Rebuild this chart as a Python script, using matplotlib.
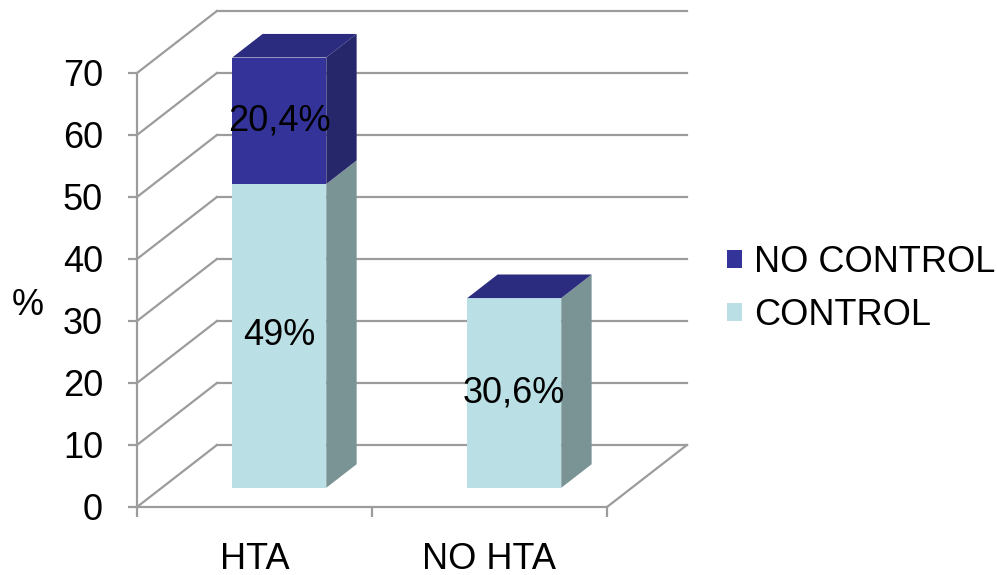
import matplotlib
matplotlib.use("Agg")
import matplotlib.pyplot as plt
from matplotlib.patches import Polygon, Patch

plt.rcParams['font.family'] = ['Liberation Sans', 'DejaVu Sans']

# Data
categories = ["HTA", "NO HTA"]
series_names = ["CONTROL", "NO CONTROL"]
control = [49.0, 30.6]
no_control = [20.4, 0.0]
labels_control = ["49%", "30,6%"]
labels_no_control = ["20,4%", ""]
y_ticks = [0, 10, 20, 30, 40, 50, 60, 70]

# Styling
FS = 26
GRID = "#9c9c9c"
colors = {
    "CONTROL": {"front": "#badfe4", "side": "#7a9395", "top": "#9fc4c8"},
    "NO CONTROL": {"front": "#333399", "side": "#26266a", "top": "#2b2b80"},
}
DX, DY = 0.34, 10.0          # oblique offset of the full floor depth
BAR_W = 0.4                  # bar width in category units
D0, D1 = 0.31, 0.69          # bar depth range (fraction of floor depth)


def proj(x, y, d):
    return (x + d * DX, y + d * DY)


fig = plt.figure(figsize=(9.97, 5.75), dpi=100)
fig.patch.set_facecolor("white")
ax = fig.add_axes([137 / 997, 68 / 575, 470 / 997, 434 / 575])
ax.set_xlim(0, len(categories))
ax.set_ylim(0, 70)
ax.patch.set_alpha(0)

# Walls and gridlines
for v in y_ticks:
    ax.plot([0, DX], [v, v + DY], color=GRID, lw=1.6, clip_on=False, zorder=1)
    ax.plot([DX, len(categories) + DX], [v + DY, v + DY], color=GRID, lw=1.6,
            clip_on=False, zorder=1)
ax.plot([len(categories), len(categories) + DX], [0, DY], color=GRID, lw=1.6,
        clip_on=False, zorder=1)

# Stacked 3D bars
for i, cat in enumerate(categories):
    xl = i + 0.5 - BAR_W / 2
    xr = i + 0.5 + BAR_W / 2
    segs = [("CONTROL", control[i], labels_control[i]),
            ("NO CONTROL", no_control[i], labels_no_control[i])]
    base = 0.0
    for name, val, lab in segs:
        y0, y1 = base, base + val
        c = colors[name]
        if val > 0:
            front = [proj(xl, y0, D0), proj(xr, y0, D0), proj(xr, y1, D0), proj(xl, y1, D0)]
            side = [proj(xr, y0, D0), proj(xr, y0, D1), proj(xr, y1, D1), proj(xr, y1, D0)]
            ax.add_patch(Polygon(front, closed=True, facecolor=c["front"], edgecolor="none",
                                 clip_on=False, zorder=3))
            ax.add_patch(Polygon(side, closed=True, facecolor=c["side"], edgecolor="none",
                                 clip_on=False, zorder=3))
        if lab:
            cx, cy = proj(i + 0.5, (y0 + y1) / 2, D0)
            ax.text(cx, cy, lab, ha="center", va="center", fontsize=FS, color="black",
                    zorder=5)
        base = y1
    top = [proj(xl, base, D0), proj(xr, base, D0), proj(xr, base, D1), proj(xl, base, D1)]
    ax.add_patch(Polygon(top, closed=True, facecolor=colors["NO CONTROL"]["top"],
                         edgecolor="none", clip_on=False, zorder=4))

# Axes
for s in ["top", "right"]:
    ax.spines[s].set_visible(False)
for s in ["left", "bottom"]:
    ax.spines[s].set_color(GRID)
    ax.spines[s].set_linewidth(1.6)
    ax.spines[s].set_zorder(2)

ax.set_yticks(y_ticks)
ax.set_yticklabels([str(t) for t in y_ticks])
ax.tick_params(axis="y", direction="out", length=6.5, width=1.6, color=GRID,
               labelsize=FS, pad=18)

ax.set_xticks(range(len(categories) + 1))
ax.set_xticklabels([])
ax.set_xticks([i + 0.5 for i in range(len(categories))], minor=True)
ax.set_xticklabels(categories, minor=True)
ax.tick_params(axis="x", which="major", direction="out", length=7.2, width=1.6, color=GRID)
ax.tick_params(axis="x", which="minor", length=0, labelsize=FS, pad=25)

ax.set_ylabel("%", rotation=0, fontsize=FS, ha="center", va="center")
ax.yaxis.set_label_coords(-0.232, 0.465)

# Legend
handles = [Patch(facecolor=colors["NO CONTROL"]["front"], edgecolor="none"),
           Patch(facecolor=colors["CONTROL"]["front"], edgecolor="none")]
fig.legend(handles, ["NO CONTROL", "CONTROL"], loc="center left",
           bbox_to_anchor=(727 / 997, 1 - 289 / 575), frameon=False, fontsize=FS,
           handlelength=0.42, handleheight=0.42, handletextpad=0.33,
           labelspacing=0.5, borderpad=0, borderaxespad=0)

fig.savefig("out.png", dpi=100, facecolor="white")
